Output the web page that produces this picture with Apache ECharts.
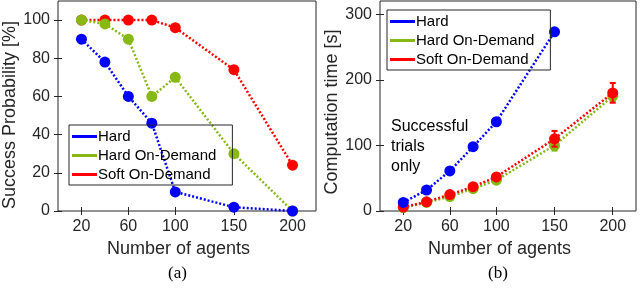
<!DOCTYPE html>
<html><head><meta charset="utf-8">
<script src="https://cdn.jsdelivr.net/npm/echarts@6/dist/echarts.min.js"></script>
<style>html,body{margin:0;padding:0;background:#fff}#c{width:640px;height:290px}</style>
</head><body><div id="c"></div>
<script>
const agents = [20, 40, 60, 80, 100, 150, 200];
const xTicks = [20, 60, 100, 150, 200];
const yTicksA = [0, 20, 40, 60, 80, 100];
const yTicksB = [0, 100, 200, 300];
const seriesNames = ['Hard', 'Hard On-Demand', 'Soft On-Demand'];
const successHard = [90, 78, 60, 46, 10, 2, 0];
const successHardOD = [100, 98, 90, 60, 70, 30, 0];
const successSoftOD = [100, 100, 100, 100, 96, 74, 24];
const timeHard = [13, 32, 61, 98, 136, 273];
const timeHardOD = [5, 13, 22, 34, 47, 100, 175];
const timeSoftOD = [6, 14, 25, 37, 52, 110, 180];
const errHardOD = [1, 1, 1, 2, 2, 8, 8];
const errSoftOD = [1, 1, 2, 2, 3, 12, 15];

const colors = ['#0000ff', '#88b814', '#ff0000'];
const FONT = 'Liberation Sans';
const axisCol = '#262626';

function pairs(xs, ys) { return ys.map((v, i) => [xs[i], v]); }

function xAx(gi, pos) {
  return {
    type: 'value', gridIndex: gi, position: pos, min: 0, max: 220,
    axisLine: { show: false },
    axisTick: { inside: true, length: 4, customValues: xTicks, lineStyle: { color: axisCol } },
    axisLabel: { show: pos === 'bottom', customValues: xTicks, margin: 8, fontSize: 16, fontFamily: FONT, color: axisCol },
    splitLine: { show: false },
    name: pos === 'bottom' ? 'Number of agents' : '',
    nameLocation: 'middle', nameGap: 27,
    nameTextStyle: { fontSize: 18, fontFamily: FONT, color: axisCol, padding: [0, 17, 0, 0] }
  };
}
function yAx(gi, pos, max, ticks, name, gap, pad) {
  return {
    type: 'value', gridIndex: gi, position: pos, min: 0, max: max,
    axisLine: { show: false },
    axisTick: { inside: true, length: 4, customValues: ticks, lineStyle: { color: axisCol } },
    axisLabel: { show: pos === 'left', customValues: ticks, margin: 8, fontSize: 16, fontFamily: FONT, color: axisCol },
    splitLine: { show: false },
    name: pos === 'left' ? name : '',
    nameLocation: 'middle', nameGap: gap,
    nameTextStyle: { fontSize: 18, fontFamily: FONT, color: axisCol, padding: [0, pad, 0, 0] }
  };
}

function lineSeries(name, ci, xi, yi, data, z) {
  return {
    type: 'line', name: name, xAxisIndex: xi, yAxisIndex: yi, data: data,
    symbol: 'circle', symbolSize: 11, z: z,
    itemStyle: { color: colors[ci] },
    lineStyle: { color: colors[ci], width: 2.5, type: [2, 2] },
    animation: false
  };
}

function errSeries(name, ci, xi, yi, vals, errs, z) {
  return {
    type: 'custom', name: name, xAxisIndex: xi, yAxisIndex: yi, z: z,
    data: vals.map((v, i) => [agents[i], v - errs[i], v + errs[i]]),
    renderItem: function (params, api) {
      const lo = api.coord([api.value(0), api.value(1)]);
      const hi = api.coord([api.value(0), api.value(2)]);
      const st = { stroke: colors[ci], lineWidth: 2 };
      return { type: 'group', children: [
        { type: 'line', shape: { x1: lo[0], y1: lo[1], x2: hi[0], y2: hi[1] }, style: st },
        { type: 'line', shape: { x1: lo[0] - 3, y1: lo[1], x2: lo[0] + 3, y2: lo[1] }, style: st },
        { type: 'line', shape: { x1: hi[0] - 3, y1: hi[1], x2: hi[0] + 3, y2: hi[1] }, style: st }
      ]};
    },
    animation: false
  };
}

function legend(left, top) {
  return {
    orient: 'vertical', left: left, top: top, data: seriesNames,
    icon: 'rect', itemWidth: 25, itemHeight: 3, itemGap: 4,
    padding: [4, 16, 3, 3], borderColor: axisCol, borderWidth: 1, backgroundColor: 'transparent',
    textStyle: { fontSize: 15, fontFamily: FONT, color: '#000', padding: [0, 0, 0, -4] },
    selectedMode: false, z: 10
  };
}

const chart = echarts.init(document.getElementById('c'), null, { renderer: 'canvas' });
chart.setOption({
  animation: false,
  grid: [
    { left: 58, top: 1, width: 258, height: 210, show: true, borderColor: axisCol, borderWidth: 1, backgroundColor: 'transparent' },
    { left: 380, top: 1, width: 256, height: 210, show: true, borderColor: axisCol, borderWidth: 1, backgroundColor: 'transparent' }
  ],
  xAxis: [xAx(0, 'bottom'), xAx(0, 'top'), xAx(1, 'bottom'), xAx(1, 'top')],
  yAxis: [
    yAx(0, 'left', 110, yTicksA, 'Success Probability [%]', 39, 18),
    yAx(0, 'right', 110, yTicksA, '', 0, 0),
    yAx(1, 'left', 320, yTicksB, 'Computation time [s]', 38, 12),
    yAx(1, 'right', 320, yTicksB, '', 0, 0)
  ],
  legend: [legend(69, 125), legend(387, 10)],
  series: [
    lineSeries('Hard', 0, 0, 0, pairs(agents, successHard), 3),
    lineSeries('Hard On-Demand', 1, 0, 0, pairs(agents, successHardOD), 2),
    lineSeries('Soft On-Demand', 2, 0, 0, pairs(agents, successSoftOD), 1),
    errSeries('Hard On-Demand', 1, 2, 2, timeHardOD, errHardOD, 2),
    lineSeries('Hard On-Demand', 1, 2, 2, pairs(agents, timeHardOD), 2),
    errSeries('Soft On-Demand', 2, 2, 2, timeSoftOD, errSoftOD, 3),
    lineSeries('Soft On-Demand', 2, 2, 2, pairs(agents, timeSoftOD), 3),
    lineSeries('Hard', 0, 2, 2, pairs(agents, timeHard), 4)
  ],
  graphic: [
    { type: 'text', left: 391, top: 117, style: { text: 'Successful\ntrials\nonly', font: '16px "Liberation Sans"', lineHeight: 20, fill: '#000' } },
    { type: 'text', left: 168, top: 265, style: { text: '(a)', font: '17px "Liberation Serif"', fill: '#000' } },
    { type: 'text', left: 488, top: 265, style: { text: '(b)', font: '17px "Liberation Serif"', fill: '#000' } }
  ]
});
</script>
</body></html>
